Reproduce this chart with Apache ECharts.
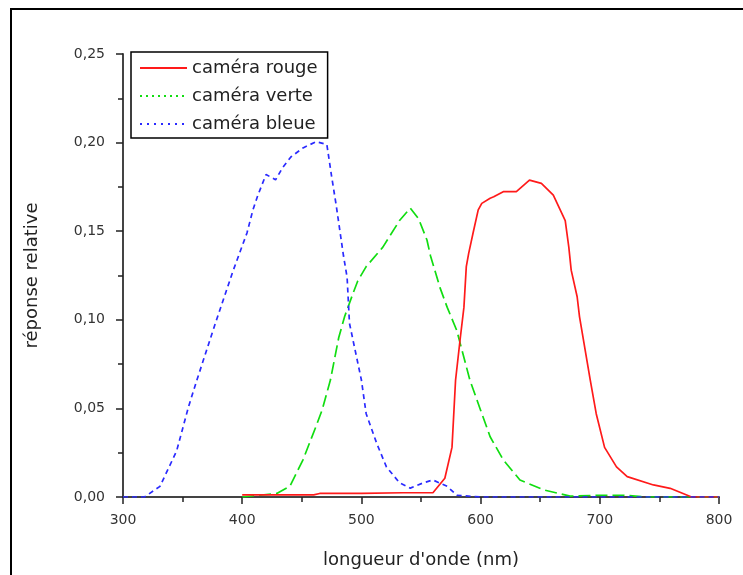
<!DOCTYPE html>
<html>
<head>
<meta charset="utf-8">
<script src="https://cdn.jsdelivr.net/npm/echarts@6/dist/echarts.min.js"></script>
<style>
html,body{margin:0;padding:0;background:#fff;}
#chart{width:743px;height:575px;}
</style>
</head>
<body>
<div id="chart"></div>
<script>
// Data
const seriesNames = ['caméra rouge', 'caméra verte', 'caméra bleue'];

const redWl  = [400, 460, 465, 500, 535, 560, 570, 576, 579, 583, 586, 588, 590, 594, 598, 601, 608, 611, 619, 622, 630, 641, 651, 661, 671, 674, 676, 681, 683, 692, 697, 704, 714, 723, 745, 759, 777, 800];
const redVal = [0.0012, 0.0012, 0.002, 0.002, 0.0024, 0.0024, 0.0106, 0.028, 0.066, 0.09, 0.107, 0.13, 0.1375, 0.150, 0.162, 0.1657, 0.1686, 0.1694, 0.1723, 0.1723, 0.1723, 0.1788, 0.177, 0.1704, 0.156, 0.141, 0.128, 0.113, 0.1017, 0.066, 0.047, 0.028, 0.017, 0.0115, 0.0068, 0.0049, 0, 0];

const greenWl  = [400, 429, 440, 451, 462, 467, 474, 481, 486, 493, 497, 504, 518, 532, 541, 548, 555, 558, 566, 572, 580, 591, 600, 608, 619, 633, 653, 675, 700, 720, 740, 800];
const greenVal = [0, 0.002, 0.006, 0.021, 0.040, 0.049, 0.066, 0.090, 0.102, 0.115, 0.122, 0.130, 0.141, 0.156, 0.163, 0.157, 0.145, 0.136, 0.118, 0.107, 0.094, 0.066, 0.049, 0.034, 0.021, 0.0096, 0.004, 0.0005, 0.001, 0.001, 0, 0];

const blueWl  = [300, 318, 331, 345, 355, 362, 376, 392, 404, 409, 413, 420, 428, 434, 441, 451, 462, 471, 475, 479, 485, 488, 490, 500, 504, 513, 521, 532, 541, 552, 560, 572, 580, 600, 700, 800];
const blueVal = [0, 0, 0.006, 0.026, 0.051, 0.066, 0.095, 0.127, 0.149, 0.162, 0.170, 0.182, 0.179, 0.186, 0.192, 0.197, 0.2005, 0.199, 0.181, 0.164, 0.136, 0.124, 0.098, 0.066, 0.047, 0.030, 0.017, 0.008, 0.005, 0.008, 0.0096, 0.006, 0.001, 0, 0, 0];

const xTicks = [300, 400, 500, 600, 700, 800];
const yTicks = [0, 0.05, 0.10, 0.15, 0.20, 0.25];

const xName = "longueur d'onde (nm)";
const yName = 'réponse relative';

function pairs(xs, ys) { return xs.map((x, i) => [x, ys[i]]); }

const chart = echarts.init(document.getElementById('chart'), null, { renderer: 'canvas' });
const font = 'DejaVu Sans';
const noSymbol = { color: 'rgba(0,0,0,0)', borderWidth: 0, opacity: 0 };

chart.setOption({
  animation: false,
  backgroundColor: '#fff',
  graphic: [{
    type: 'rect',
    shape: { x: 11, y: 9, width: 800, height: 700 },
    style: { fill: 'none', stroke: '#000', lineWidth: 2 },
    silent: true,
    z: -1
  }],
  grid: { left: 123, right: 24, top: 54, bottom: 78 },
  legend: {
    orient: 'vertical',
    left: 131,
    top: 52,
    borderColor: '#000',
    borderWidth: 1.5,
    borderRadius: 0,
    padding: [7, 10, 5, 8],
    itemWidth: 47,
    itemHeight: 14,
    itemGap: 10,
    textStyle: { fontFamily: font, fontSize: 18, color: '#222' },
    data: [
      { name: seriesNames[0], itemStyle: noSymbol, lineStyle: { type: 'solid', width: 2 } },
      { name: seriesNames[1], itemStyle: noSymbol, lineStyle: { type: [2, 4], width: 2 } },
      { name: seriesNames[2], itemStyle: noSymbol, lineStyle: { type: [2, 5], width: 2 } }
    ]
  },
  xAxis: {
    type: 'value',
    min: xTicks[0],
    max: xTicks[xTicks.length - 1],
    interval: 100,
    name: xName,
    nameLocation: 'middle',
    nameGap: 54,
    nameTextStyle: { fontFamily: font, fontSize: 18, color: '#222' },
    axisLine: { onZero: false, lineStyle: { color: '#444', width: 2 } },
    axisTick: { show: true, length: 7, inside: false, lineStyle: { color: '#222', width: 1.5 } },
    minorTick: { show: true, splitNumber: 2, length: 5, lineStyle: { color: '#222', width: 1.5 } },
    axisLabel: { fontFamily: font, fontSize: 14, color: '#333', margin: 16 },
    splitLine: { show: false }
  },
  yAxis: {
    type: 'value',
    min: yTicks[0],
    max: yTicks[yTicks.length - 1],
    interval: 0.05,
    name: yName,
    nameLocation: 'middle',
    nameGap: 82,
    nameRotate: 90,
    nameTextStyle: { fontFamily: font, fontSize: 18, color: '#222' },
    axisLine: { show: true, onZero: false, lineStyle: { color: '#444', width: 2 } },
    axisTick: { show: true, length: 7, inside: false, lineStyle: { color: '#222', width: 1.5 } },
    minorTick: { show: true, splitNumber: 2, length: 5, lineStyle: { color: '#222', width: 1.5 } },
    axisLabel: {
      fontFamily: font, fontSize: 14, color: '#333', margin: 18,
      formatter: v => v.toFixed(2).replace('.', ',')
    },
    splitLine: { show: false }
  },
  series: [
    {
      name: seriesNames[0], type: 'line', symbol: 'none', z: 3,
      data: pairs(redWl, redVal),
      itemStyle: { color: '#ff1a1a' },
      lineStyle: { color: '#ff1a1a', width: 1.7, type: 'solid' }
    },
    {
      name: seriesNames[1], type: 'line', symbol: 'none', z: 2,
      data: pairs(greenWl, greenVal),
      itemStyle: { color: '#11dd11' },
      lineStyle: { color: '#11dd11', width: 1.7, type: [12, 5] }
    },
    {
      name: seriesNames[2], type: 'line', symbol: 'none', z: 4,
      data: pairs(blueWl, blueVal),
      itemStyle: { color: '#2a2aff' },
      lineStyle: { color: '#2a2aff', width: 1.7, type: [5, 4] }
    }
  ]
});
</script>
</body>
</html>
